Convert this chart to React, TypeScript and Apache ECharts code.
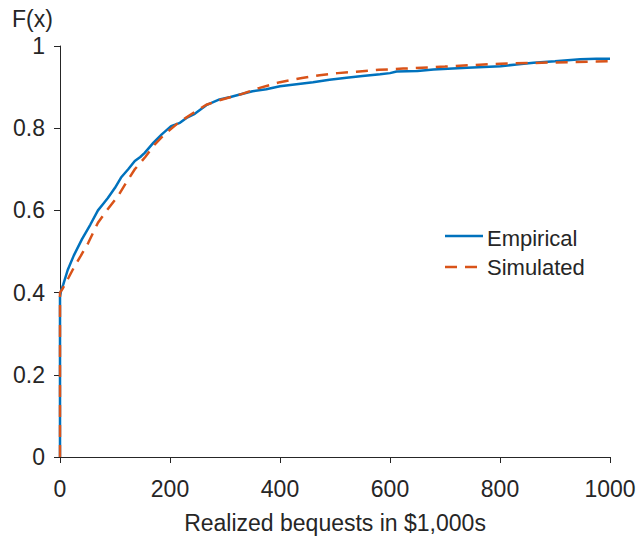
import React, { useEffect, useRef } from "react";
import * as echarts from "echarts";

const xTicks = [0, 200, 400, 600, 800, 1000];
const yTicks = [0, 0.2, 0.4, 0.6, 0.8, 1];

const empiricalX = [0, 0, 2, 6, 14, 25, 40, 55, 69, 78, 87, 100, 111, 124, 136, 146, 154, 170, 185, 202, 218, 230, 245, 266, 290, 310, 327, 350, 375, 400, 430, 460, 490, 521, 550, 582, 600, 612, 650, 679, 740, 801, 830, 861, 900, 946, 975, 1000];
const empiricalY = [0, 0.39, 0.405, 0.42, 0.455, 0.49, 0.53, 0.565, 0.6, 0.615, 0.63, 0.655, 0.68, 0.7, 0.72, 0.73, 0.74, 0.765, 0.785, 0.805, 0.813, 0.825, 0.835, 0.856, 0.87, 0.876, 0.882, 0.89, 0.895, 0.902, 0.907, 0.912, 0.918, 0.923, 0.927, 0.931, 0.934, 0.938, 0.939, 0.943, 0.947, 0.951, 0.955, 0.9595, 0.963, 0.9675, 0.969, 0.969];

const simulatedX = [0, 0, 5, 15, 26, 38, 51, 60, 69, 85, 105, 120, 136, 155, 172, 190, 215, 240, 266, 290, 330, 360, 400, 440, 472, 505, 539, 580, 624, 700, 801, 900, 1000];
const simulatedY = [0, 0.4, 0.41, 0.435, 0.463, 0.49, 0.52, 0.545, 0.57, 0.6, 0.634, 0.667, 0.7, 0.73, 0.76, 0.785, 0.813, 0.835, 0.857, 0.868, 0.883, 0.897, 0.912, 0.922, 0.929, 0.934, 0.9375, 0.942, 0.945, 0.95, 0.957, 0.96, 0.963];

const seriesNames = ["Empirical", "Simulated"];
const colors = ["#0072BD", "#D95319"];
const textColor = "#262626";
const font = "Liberation Sans, Arial, Helvetica, sans-serif";

export default function App() {
  const ref = useRef<HTMLDivElement>(null);
  useEffect(() => {
    document.body.style.margin = "0";
    if (!ref.current) return;
    const chart = echarts.init(ref.current, undefined, { renderer: "svg" });
    const emp = empiricalX.map((x, i) => [x, empiricalY[i]]);
    const sim = simulatedX.map((x, i) => [x, simulatedY[i]]);
    chart.setOption({
      animation: false,
      backgroundColor: "#ffffff",
      grid: { left: 60, right: 29, top: 46, bottom: 80, containLabel: false, outerBoundsMode: "none" },
      xAxis: {
        type: "value",
        min: xTicks[0],
        max: xTicks[xTicks.length - 1],
        interval: 200,
        name: "Realized bequests in $1,000s",
        nameLocation: "middle",
        nameGap: 54,
        nameTextStyle: { color: textColor, fontSize: 23, fontFamily: font },
        axisLine: { lineStyle: { color: textColor, width: 1 } },
        axisTick: { show: true, inside: false, length: 6, lineStyle: { color: textColor } },
        axisLabel: {
          color: textColor,
          fontSize: 23,
          fontFamily: font,
          margin: 20,
          formatter: (v: number) => String(v),
        },
        splitLine: { show: false },
      },
      yAxis: {
        type: "value",
        min: yTicks[0],
        max: yTicks[yTicks.length - 1],
        interval: 0.2,
        axisLine: { show: true, lineStyle: { color: textColor, width: 1 } },
        axisTick: { show: true, inside: false, length: 6, lineStyle: { color: textColor } },
        axisLabel: { color: textColor, fontSize: 23, fontFamily: font, margin: 15 },
        splitLine: { show: false },
      },
      series: [
        {
          name: seriesNames[0],
          type: "line",
          data: emp,
          showSymbol: false,
          symbol: "none",
          lineStyle: { color: colors[0], width: 2.5 },
          z: 2,
        },
        {
          name: seriesNames[1],
          type: "line",
          data: sim,
          showSymbol: false,
          symbol: "none",
          lineStyle: { color: colors[1], width: 2.5, type: [12, 8] },
          z: 3,
        },
      ],
      graphic: [
        {
          type: "text",
          left: 12,
          top: 7,
          style: { text: "F(x)", fill: textColor, fontSize: 23, fontFamily: font },
        },
        {
          type: "line",
          shape: { x1: 445, y1: 236, x2: 483, y2: 236 },
          style: { stroke: colors[0], lineWidth: 2.5 },
        },
        {
          type: "text",
          x: 487,
          y: 238,
          style: { text: seriesNames[0], fill: textColor, fontSize: 22, fontFamily: font, verticalAlign: "middle" },
        },
        {
          type: "line",
          shape: { x1: 445, y1: 267, x2: 483, y2: 267 },
          style: { stroke: colors[1], lineWidth: 2.5, lineDash: [12, 8] },
        },
        {
          type: "text",
          x: 487,
          y: 267,
          style: { text: seriesNames[1], fill: textColor, fontSize: 22, fontFamily: font, verticalAlign: "middle" },
        },
      ],
    });
    return () => chart.dispose();
  }, []);
  return <div ref={ref} style={{ width: 639, height: 537 }} />;
}
